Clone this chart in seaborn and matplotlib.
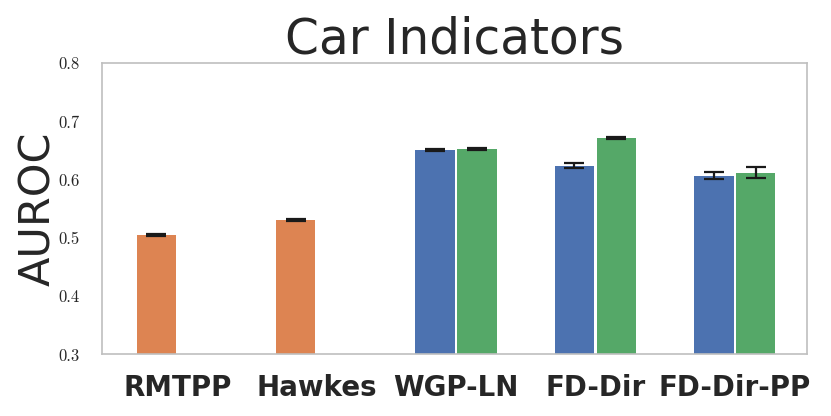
import matplotlib
matplotlib.use("Agg")
import matplotlib.pyplot as plt
import seaborn as sns
import pandas as pd

# bars: two slots per method, baselines only fill the first slot
methods = ["RMTPP", "Hawkes", "WGP-LN", "FD-Dir", "FD-Dir-PP"]
bar_method = ["RMTPP", "Hawkes", "WGP-LN", "WGP-LN", "FD-Dir", "FD-Dir", "FD-Dir-PP", "FD-Dir-PP"]
bar_slot = ["first", "first", "first", "second", "first", "second", "first", "second"]
bar_group = ["baseline", "baseline", "blue", "green", "blue", "green", "blue", "green"]
auroc = [0.505, 0.531, 0.651, 0.653, 0.624, 0.672, 0.607, 0.612]
auroc_err = [0.002, 0.002, 0.002, 0.002, 0.004, 0.002, 0.006, 0.009]
yticks = [0.3, 0.4, 0.5, 0.6, 0.7, 0.8]

group_colors = {"baseline": "#DD8452", "blue": "#4C72B0", "green": "#55A868"}

sns.set_theme(style="white")
plt.rcParams["axes.formatter.use_mathtext"] = True
plt.rcParams["axes.edgecolor"] = ".75"
plt.rcParams["axes.linewidth"] = 1.2

df = pd.DataFrame({"method": bar_method, "slot": bar_slot, "group": bar_group,
                   "auroc": auroc, "err": auroc_err})

fig = plt.figure(figsize=(8.31, 4.16), dpi=100)
ax = fig.add_axes([0.1227, 0.148, 0.8487, 0.7])

sns.barplot(data=df, x="method", y="auroc", hue="slot", order=methods,
            hue_order=["first", "second"], palette=["#4C72B0", "#55A868"],
            width=0.6, gap=0.06, errorbar=None, legend=False, ax=ax)

# recolor bars by group and add error bars on top
for p in ax.patches:
    h = p.get_height()
    if h != h or h == 0:
        continue
    row = df.iloc[(df["auroc"] - h).abs().argmin()]
    p.set_facecolor(group_colors[row["group"]])
    p.set_edgecolor("none")
    xc = p.get_x() + p.get_width() / 2
    ax.errorbar(xc, h, yerr=row["err"], color="#1a1a1a", elinewidth=1.6,
                capsize=7, capthick=1.6, zorder=5)

ax.set_ylim(0.3, 0.8)
ax.set_xlim(-0.54, 4.52)
ax.set_yticks(yticks)
ax.set_yticklabels([f"{t:.1f}" for t in yticks], family="cmr10", fontsize=12)
for lab in ax.get_xticklabels():
    lab.set_fontweight("bold")
    lab.set_fontsize(20)
    lab.set_family("DejaVu Sans")
    lab.set_color("#262626")
ax.tick_params(axis="y", length=0, pad=16)
ax.tick_params(axis="x", length=0, pad=14)
ax.set_xlabel("")
ax.set_ylabel("AUROC", family="DejaVu Sans", fontsize=31, color="#262626")
ax.yaxis.set_label_coords(-0.06, 0.5)
ax.set_title("Car Indicators", family="DejaVu Sans", fontsize=35, pad=7, color="#262626")
for s in ax.spines.values():
    s.set_visible(True)

fig.savefig("out.png", dpi=100)
